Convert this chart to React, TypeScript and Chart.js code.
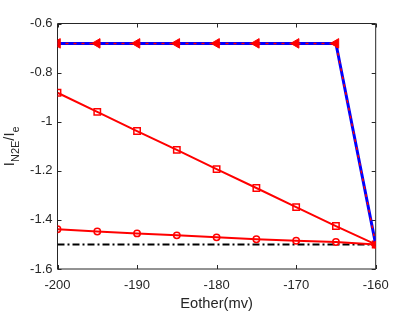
import React, { useEffect, useRef } from "react";
import { Chart, registerables } from "chart.js";

Chart.register(...registerables);

const xValues = [-200, -195, -190, -185, -180, -175, -170, -165, -160];
const triangleSeries = [-0.681, -0.681, -0.681, -0.681, -0.681, -0.681, -0.681, -0.681, -1.5];
const squareSeries = [-0.882, -0.96, -1.038, -1.115, -1.193, -1.27, -1.348, -1.425, -1.5];
const circleSeries = [-1.438, -1.447, -1.455, -1.463, -1.471, -1.479, -1.485, -1.49, -1.5];
const baselineX = [-200, -160];
const baselineY = [-1.5, -1.5];
const xTicks = [-200, -190, -180, -170, -160];
const yTicks = [-0.6, -0.8, -1, -1.2, -1.4, -1.6];
const xTitle = "Eother(mv)";
const yTitleParts = [
  { text: "I", sub: false },
  { text: "N2E", sub: true },
  { text: "/I", sub: false },
  { text: "e", sub: true },
];

const AXIS_COLOR = "#262626";
const FONT = "'Liberation Sans', Arial, Helvetica, sans-serif";

const pts = (xs: number[], ys: number[]) => xs.map((x, i) => ({ x, y: ys[i] }));

const axesPlugin = {
  id: "matlabAxes",
  beforeDatasetsDraw(chart: any) {
    const { ctx, chartArea: a, scales } = chart;
    const xs = scales.x;
    const ys = scales.y;
    ctx.save();
    ctx.strokeStyle = AXIS_COLOR;
    ctx.lineWidth = 1;
    ctx.beginPath();
    ctx.rect(a.left, a.top, a.right - a.left, a.bottom - a.top);
    ctx.stroke();
    const tl = 4;
    ctx.beginPath();
    xTicks.forEach((v) => {
      const px = Math.round(xs.getPixelForValue(v)) + 0.5;
      ctx.moveTo(px, a.bottom);
      ctx.lineTo(px, a.bottom - tl);
      ctx.moveTo(px, a.top);
      ctx.lineTo(px, a.top + tl);
    });
    yTicks.forEach((v) => {
      const py = Math.round(ys.getPixelForValue(v)) + 0.5;
      ctx.moveTo(a.left, py);
      ctx.lineTo(a.left + tl, py);
      ctx.moveTo(a.right, py);
      ctx.lineTo(a.right - tl, py);
    });
    ctx.stroke();
    ctx.restore();
  },
  afterDraw(chart: any) {
    const { ctx, chartArea: a } = chart;
    ctx.save();
    ctx.fillStyle = AXIS_COLOR;
    // x title
    ctx.font = `14.7px ${FONT}`;
    ctx.textAlign = "center";
    ctx.textBaseline = "alphabetic";
    ctx.fillText(xTitle, (a.left + a.right) / 2, 308);
    // y title with subscripts
    const mainFont = `14.7px ${FONT}`;
    const subFont = `11px ${FONT}`;
    let total = 0;
    yTitleParts.forEach((p) => {
      ctx.font = p.sub ? subFont : mainFont;
      total += ctx.measureText(p.text).width;
    });
    ctx.translate(14, (a.top + a.bottom) / 2);
    ctx.rotate(-Math.PI / 2);
    ctx.textAlign = "left";
    let cx = -total / 2;
    yTitleParts.forEach((p) => {
      ctx.font = p.sub ? subFont : mainFont;
      ctx.fillText(p.text, cx, p.sub ? 5 : 0);
      cx += ctx.measureText(p.text).width;
    });
    ctx.restore();
  },
};

export default function App() {
  const ref = useRef<HTMLCanvasElement | null>(null);
  useEffect(() => {
    document.body.style.margin = "0";
    if (!ref.current) return;
    const chart = new Chart(ref.current, {
      type: "line",
      data: {
        datasets: [
          {
            label: "baseline",
            data: pts(baselineX, baselineY),
            borderColor: "#000000",
            borderWidth: 2,
            borderDash: [7, 3, 2, 3],
            pointRadius: 0,
            order: 5,
          },
          {
            label: "circles",
            data: pts(xValues, circleSeries),
            borderColor: "#ff0000",
            borderWidth: 2,
            pointStyle: "circle",
            pointRadius: 3.2,
            pointBorderWidth: 1.5,
            pointBorderColor: "#ff0000",
            pointBackgroundColor: "rgba(0,0,0,0)",
            order: 4,
          },
          {
            label: "squares",
            data: pts(xValues, squareSeries),
            borderColor: "#ff0000",
            borderWidth: 2,
            pointStyle: "rect",
            pointRadius: 4.5,
            pointBorderWidth: 1.5,
            pointBorderColor: "#ff0000",
            pointBackgroundColor: "rgba(0,0,0,0)",
            order: 3,
          },
          {
            label: "blue",
            data: pts(xValues, triangleSeries),
            borderColor: "#0000ff",
            borderWidth: 3,
            pointRadius: 0,
            order: 2,
          },
          {
            label: "triangles",
            data: pts(xValues, triangleSeries),
            borderColor: "#ff0000",
            borderWidth: 1.5,
            borderDash: [3, 5],
            pointStyle: "triangle",
            rotation: -90,
            pointRadius: 5.5,
            pointBorderWidth: 1,
            pointBorderColor: "#ff0000",
            pointBackgroundColor: "#ff0000",
            order: 1,
          },
        ],
      },
      options: {
        animation: false,
        responsive: false,
        maintainAspectRatio: false,
        layout: { padding: { top: 23.5, right: 39.3, left: 0, bottom: 0 } },
        plugins: { legend: { display: false }, tooltip: { enabled: false } },
        scales: {
          x: {
            type: "linear",
            min: -200,
            max: -160,
            afterFit: (s: any) => {
              s.height = 43;
            },
            afterBuildTicks: (s: any) => {
              s.ticks = xTicks.map((v) => ({ value: v }));
            },
            grid: { display: false, drawTicks: false, tickLength: 0 },
            border: { display: false },
            ticks: {
              color: AXIS_COLOR,
              font: { family: FONT, size: 13 },
              padding: 9,
              maxRotation: 0,
              callback: (v: any) => String(v),
            },
          },
          y: {
            type: "linear",
            min: -1.6,
            max: -0.6,
            afterFit: (s: any) => {
              s.width = 57.5;
            },
            afterBuildTicks: (s: any) => {
              s.ticks = yTicks.map((v) => ({ value: v }));
            },
            grid: { display: false, drawTicks: false, tickLength: 0 },
            border: { display: false },
            ticks: {
              color: AXIS_COLOR,
              font: { family: FONT, size: 13 },
              padding: 5,
              callback: (v: any) => String(Number(Number(v).toFixed(1))),
            },
          },
        },
      },
      plugins: [axesPlugin],
    });
    return () => chart.destroy();
  }, []);
  return (
    <div style={{ width: 415, height: 312 }}>
      <canvas ref={ref} width={415} height={312} />
    </div>
  );
}
